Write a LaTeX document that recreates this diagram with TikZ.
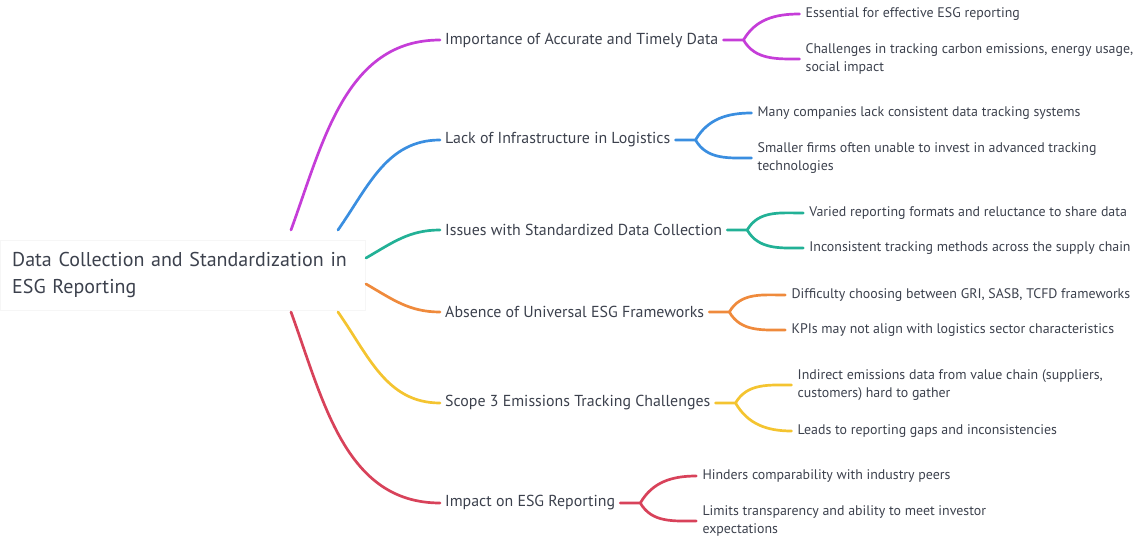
\documentclass[tikz,border=0pt]{standalone}
\usepackage{fontspec}
\setmainfont{PT Sans}
\usetikzlibrary{positioning}
\definecolor{MapText}{HTML}{3C414D}
\definecolor{MapShade}{HTML}{F6F6F6}
\definecolor{MapPurple}{HTML}{C53DD8}
\definecolor{MapBlue}{HTML}{3A8EE0}
\definecolor{MapTeal}{HTML}{22B196}
\definecolor{MapOrange}{HTML}{EF8A3C}
\definecolor{MapYellow}{HTML}{F4C430}
\definecolor{MapRed}{HTML}{D8425A}

\begin{document}
\begin{tikzpicture}[x=1pt,y=-1pt,
  rootbox/.style={fill=white,draw=MapShade,anchor=west,align=left,text width=341pt,minimum height=70pt,inner xsep=12pt,text=MapText,font=\fontsize{20}{27}\selectfont},
  topic/.style={anchor=west,inner xsep=5pt,inner ysep=2pt,text=MapText,font=\fontsize{15.9}{18}\selectfont},
  leaf/.style={anchor=west,align=left,inner xsep=6pt,inner ysep=1pt,text=MapText,font=\fontsize{13.9}{18}\selectfont},
  link/.style={line width=2.7pt,line cap=round}]
\useasboundingbox (0,0) rectangle (1135,537);

% centre
\node[rootbox] (root) at (0,275) {Data Collection and Standardization in\\ESG Reporting};
\coordinate (s1) at (291,230);
\coordinate (s2) at (338,230);
\coordinate (s3) at (366,258);
\coordinate (s4) at (366,284);
\coordinate (s5) at (338,312);
\coordinate (s6) at (291,312);

% first level
\node[topic] (imp) at (440,40) {Importance of Accurate and Timely Data};
\node[topic] (infra) at (440,140) {Lack of Infrastructure in Logistics};
\node[topic] (iss) at (440,230) {Issues with Standardized Data Collection};
\node[topic] (abs) at (440,312) {Absence of Universal ESG Frameworks};
\node[topic] (scope) at (440,403) {Scope 3 Emissions Tracking Challenges};
\node[topic] (impact) at (440,503) {Impact on ESG Reporting};

% leaves
\node[leaf] (imp1) at ([shift={(76,-26)}]imp.east) {Essential for effective ESG reporting};
\node[leaf] (imp2) at ([shift={(76,19)}]imp.east) {Challenges in tracking carbon emissions, energy usage,\\social impact};
\node[leaf] (infra1) at ([shift={(76,-27)}]infra.east) {Many companies lack consistent data tracking systems};
\node[leaf] (infra2) at ([shift={(76,18)}]infra.east) {Smaller firms often unable to invest in advanced tracking\\technologies};
\node[leaf] (iss1) at ([shift={(76,-17)}]iss.east) {Varied reporting formats and reluctance to share data};
\node[leaf] (iss2) at ([shift={(76,18)}]iss.east) {Inconsistent tracking methods across the supply chain};
\node[leaf] (abs1) at ([shift={(76,-17)}]abs.east) {Difficulty choosing between GRI, SASB, TCFD frameworks};
\node[leaf] (abs2) at ([shift={(76,18)}]abs.east) {KPIs may not align with logistics sector characteristics};
\node[leaf] (scope1) at ([shift={(76,-18)}]scope.east) {Indirect emissions data from value chain (suppliers,\\customers) hard to gather};
\node[leaf] (scope2) at ([shift={(76,28)}]scope.east) {Leads to reporting gaps and inconsistencies};
\node[leaf] (impact1) at ([shift={(76,-27)}]impact.east) {Hinders comparability with industry peers};
\node[leaf] (impact2) at ([shift={(76,18)}]impact.east) {Limits transparency and ability to meet investor\\expectations};

% branches
\foreach \s/\t/\c/\a in {s1/imp/MapPurple/70,s2/infra/MapBlue/55,s3/iss/MapTeal/30,s4/abs/MapOrange/-30,s5/scope/MapYellow/-55,s6/impact/MapRed/-70}
  \draw[link,\c] (\s) to[out=\a,in=180] (\t.west);

\foreach \t/\c in {imp/MapPurple,infra/MapBlue,iss/MapTeal,abs/MapOrange,scope/MapYellow,impact/MapRed} {
  \draw[link,\c] (\t.east) -- ++(20,0) coordinate (\t j) to[out=60,in=180] (\t1.west);
  \draw[link,\c] (\t j) to[out=-60,in=180] (\t2.west);
}
\end{tikzpicture}
\end{document}
